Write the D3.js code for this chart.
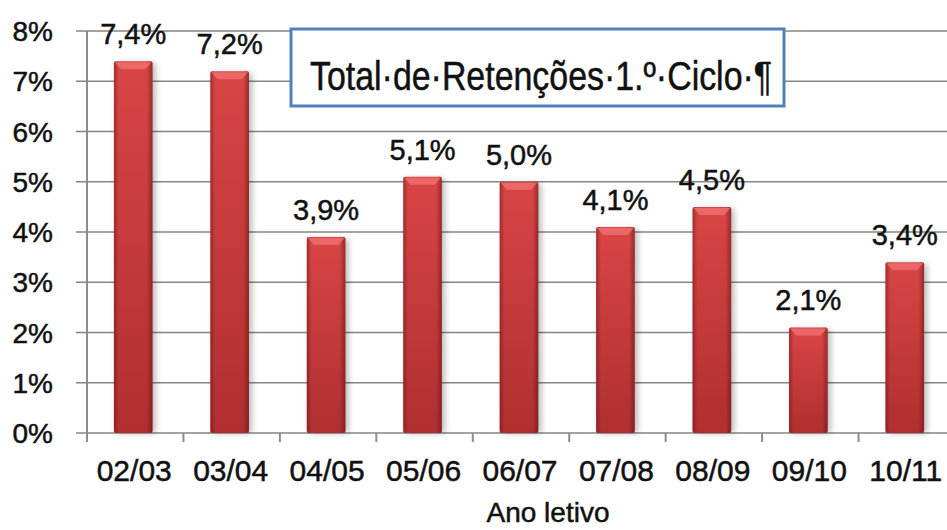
<!DOCTYPE html>
<html>
<head>
<meta charset="utf-8">
<script src="https://cdn.jsdelivr.net/npm/d3@7"></script>
<style>
  html, body { margin: 0; padding: 0; background: #fff; overflow: hidden; }
  text { font-family: "Liberation Sans", Arial, sans-serif; fill: #111; stroke: #111; stroke-width: 0.5px; }
</style>
</head>
<body>
<svg id="chart"></svg>
<script>
// Data
const years = ["02/03", "03/04", "04/05", "05/06", "06/07", "07/08", "08/09", "09/10", "10/11"];
const rates = [7.4, 7.2, 3.9, 5.1, 5.0, 4.1, 4.5, 2.1, 3.4]; // percent
const yTicks = [0, 1, 2, 3, 4, 5, 6, 7, 8];
const titleText = "Total·de·Retenções·1.º·Ciclo·¶";
const axisTitle = "Ano letivo";

const width = 947, height = 530;
const svg = d3.select("#chart").attr("width", width).attr("height", height);

const x = d3.scaleBand()
    .domain(years)
    .range([85, 953])
    .paddingInner(0.6)
    .paddingOuter(0.3);

const y = d3.scaleLinear()
    .domain([0, 8])
    .range([433, 31]);

const axisX0 = 87;
const fmt = v => v.toFixed(1).replace(".", ",") + "%";

// gradients for the bars
const defs = svg.append("defs");
const gv = defs.append("linearGradient").attr("id", "barV")
    .attr("x1", 0).attr("y1", 0).attr("x2", 0).attr("y2", 1);
gv.append("stop").attr("offset", "0%").attr("stop-color", "#d94545");
gv.append("stop").attr("offset", "100%").attr("stop-color", "#b02f2f");

const gh = defs.append("linearGradient").attr("id", "barH")
    .attr("x1", 0).attr("y1", 0).attr("x2", 1).attr("y2", 0);
gh.append("stop").attr("offset", "0%").attr("stop-color", "#5a1010").attr("stop-opacity", 0.45);
gh.append("stop").attr("offset", "12%").attr("stop-color", "#5a1010").attr("stop-opacity", 0.0);
gh.append("stop").attr("offset", "85%").attr("stop-color", "#5a1010").attr("stop-opacity", 0.0);
gh.append("stop").attr("offset", "100%").attr("stop-color", "#5a1010").attr("stop-opacity", 0.5);

const blur = defs.append("filter").attr("id", "shadow")
    .attr("x", "-50%").attr("y", "-10%").attr("width", "200%").attr("height", "120%");
blur.append("feGaussianBlur").attr("stdDeviation", 3);

// gridlines
svg.append("g")
  .selectAll("line")
  .data(yTicks)
  .join("line")
    .attr("x1", 76)
    .attr("x2", width)
    .attr("y1", d => y(d))
    .attr("y2", d => y(d))
    .attr("stroke", "#858585")
    .attr("stroke-width", 1.6);

// y axis line
svg.append("line")
    .attr("x1", axisX0).attr("x2", axisX0)
    .attr("y1", y(8)).attr("y2", y(0) + 9)
    .attr("stroke", "#8c8c8c").attr("stroke-width", 2);

// x tick marks on the category borders
svg.append("g")
  .selectAll("line")
  .data(years)
  .join("line")
    .attr("x1", (d, i) => axisX0 + i * x.step())
    .attr("x2", (d, i) => axisX0 + i * x.step())
    .attr("y1", y(0))
    .attr("y2", y(0) + 9)
    .attr("stroke", "#8c8c8c")
    .attr("stroke-width", 2);

// y tick labels
svg.append("g")
  .selectAll("text")
  .data(yTicks)
  .join("text")
    .attr("x", 53)
    .attr("y", d => y(d))
    .attr("dy", "0.36em")
    .attr("text-anchor", "end")
    .attr("font-size", 28)
    .text(d => d + "%");

// bars
const bars = svg.append("g")
  .selectAll("g")
  .data(years.map((c, i) => ({ c, v: rates[i] })))
  .join("g");

bars.append("rect")
    .attr("x", d => x(d.c) + 3)
    .attr("y", d => y(d.v) + 2)
    .attr("width", x.bandwidth())
    .attr("height", d => y(0) - y(d.v) - 2)
    .attr("fill", "#000")
    .attr("opacity", 0.28)
    .attr("filter", "url(#shadow)");

bars.append("rect")
    .attr("x", d => x(d.c))
    .attr("y", d => y(d.v))
    .attr("width", x.bandwidth())
    .attr("height", d => y(0) - y(d.v))
    .attr("rx", 2)
    .attr("fill", "url(#barV)");

bars.append("rect")
    .attr("x", d => x(d.c))
    .attr("y", d => y(d.v))
    .attr("width", x.bandwidth())
    .attr("height", d => y(0) - y(d.v))
    .attr("rx", 2)
    .attr("fill", "url(#barH)");

// top bevel highlight
bars.append("path")
    .attr("d", d => {
      const x0 = x(d.c), x1 = x0 + x.bandwidth(), t = y(d.v);
      return `M${x0 + 1},${t + 1} L${x1 - 1},${t + 1} L${x1 - 7},${t + 8} L${x0 + 7},${t + 8} Z`;
    })
    .attr("fill", "#f07070")
    .attr("opacity", 0.8);

// value labels
bars.append("text")
    .attr("x", d => x(d.c) + x.bandwidth() / 2)
    .attr("y", d => y(d.v) - 17)
    .attr("text-anchor", "middle")
    .attr("font-size", 29)
    .text(d => fmt(d.v));

// x category labels
svg.append("g")
  .selectAll("text")
  .data(years)
  .join("text")
    .attr("x", d => x(d) + x.bandwidth() / 2 + 1)
    .attr("y", 481)
    .attr("text-anchor", "middle")
    .attr("font-size", 30)
    .text(d => d);

// axis title (sits at the very bottom edge)
svg.append("text")
    .attr("x", 548)
    .attr("y", 522)
    .attr("text-anchor", "middle")
    .attr("font-size", 28)
    .text(axisTitle);

// title box
svg.append("rect")
    .attr("x", 291).attr("y", 29)
    .attr("width", 493).attr("height", 77)
    .attr("fill", "#fff")
    .attr("stroke", "#4f81bd")
    .attr("stroke-width", 3);

svg.append("text")
    .attr("x", 310)
    .attr("y", 90)
    .attr("font-family", "'Open Sans', 'Noto Sans', sans-serif")
    .attr("font-size", 40)
    .attr("stroke-width", 0.7)
    .attr("textLength", 462)
    .attr("lengthAdjust", "spacingAndGlyphs")
    .text(titleText);
</script>
</body>
</html>
